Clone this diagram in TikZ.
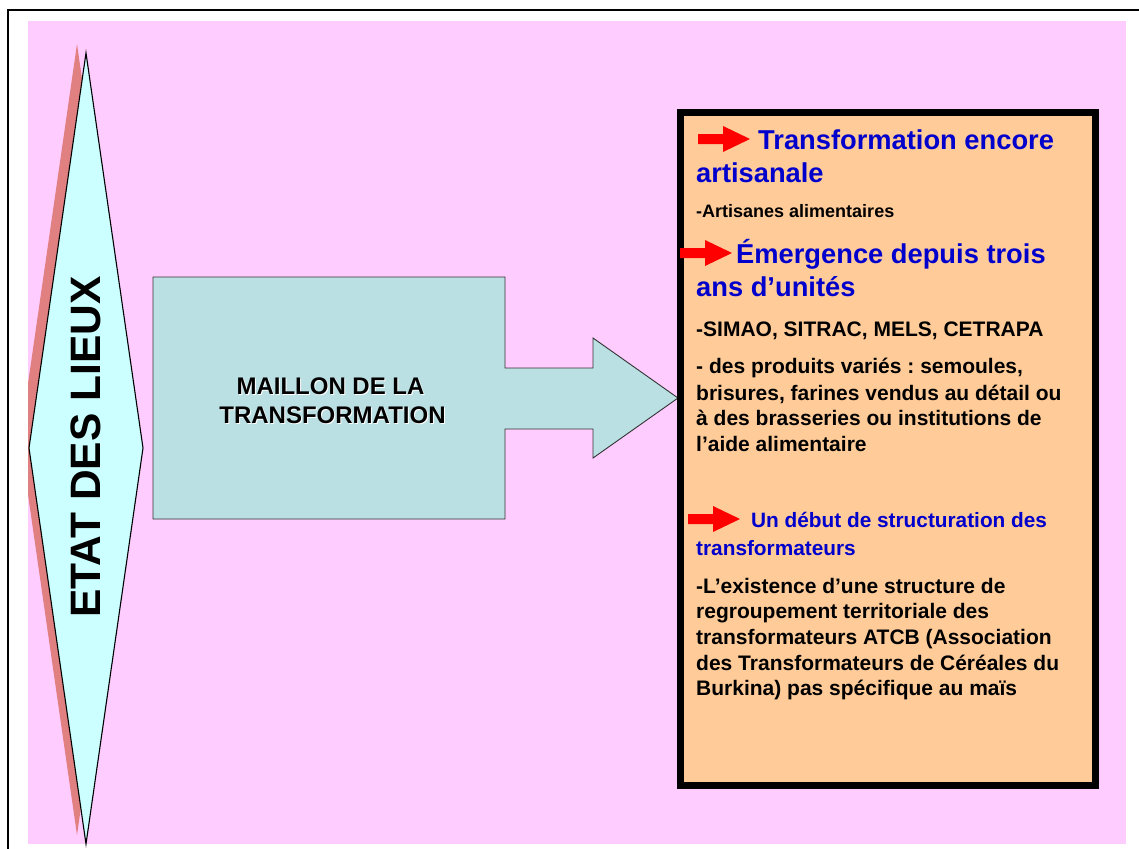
\documentclass[tikz,border=0pt]{standalone}
\usepackage{fontspec}
\setmainfont{Liberation Sans}
\frenchspacing
\definecolor{slidepink}{HTML}{FFCCFF}
\definecolor{diamondfill}{HTML}{CCFFFF}
\definecolor{diamondshade}{HTML}{E08080}
\definecolor{linkfill}{HTML}{BBE0E3}
\definecolor{panelfill}{HTML}{FFCC99}
\definecolor{headblue}{HTML}{0000CC}
\definecolor{pointerred}{HTML}{FF0000}
\begin{document}
\begin{tikzpicture}[x=1pt,y=-1pt,
  line/.style={anchor=base west,inner sep=0pt},
  headbig/.style={line,text=headblue,font=\fontsize{27.3}{33}\selectfont\bfseries},
  headsmall/.style={line,text=headblue,font=\fontsize{20.8}{25}\selectfont\bfseries},
  bodytext/.style={line,text=black,font=\fontsize{21}{25}\selectfont\bfseries},
  smalltext/.style={line,text=black,font=\fontsize{18}{21}\selectfont\bfseries},
  linklabel/.style={inner sep=0pt,anchor=base,font=\fontsize{24}{28}\selectfont\bfseries},
  pics/pointer/.style={code={
    \fill[pointerred] (0,-5) -- (25,-5) -- (25,-13) -- (52,0) -- (25,13) -- (25,5) -- (0,5) -- cycle;}}
]
\useasboundingbox (0,0) rectangle (1139,848);
\fill[white] (0,0) rectangle (1139,848);
% frame and slide area
\draw[line width=1.8pt] (8,850) -- (8,10) -- (1141,10);
\fill[slidepink] (28,21) rectangle (1126,844);

% left diamond with its offset shade
\begin{scope}
  \clip (28,21) rectangle (1126,844);
  \fill[diamondshade] (77,44) -- (134,439) -- (77,835) -- (20,439) -- cycle;
\end{scope}
\draw[fill=diamondfill,line width=1.1pt,line join=miter] (86,53) -- (143,448) -- (86,844) -- (29,448) -- cycle;
\node[rotate=90,inner sep=0pt,font=\fontsize{42.5}{50}\selectfont\bfseries] (etat) at (86,447) {ETAT DES LIEUX};

% link box merged with its block arrow
\draw[fill=linkfill,draw=black!80,line width=0.9pt,line join=miter]
  (153,277) -- (505,277) -- (505,368) -- (593,368) -- (593,338) -- (678,398)
  -- (593,458) -- (593,429) -- (505,429) -- (505,519) -- (153,519) -- cycle;
\node[linklabel,text=white] (m1s) at (331.5,395) {MAILLON DE LA};
\node[linklabel,text=white] (m2s) at (333.5,424) {TRANSFORMATION};
\node[linklabel] (m1) at (330.5,394) {MAILLON DE LA};
\node[linklabel] (m2) at (332.5,423) {TRANSFORMATION};

% right panel
\draw[fill=panelfill,line width=7pt,line join=miter] (680.5,112.5) rectangle (1095.5,785.5);

\pic at (698,139) {pointer};
\node[headbig] (h1a) at (758,149) {Transformation encore};
\node[headbig] (h1b) at (696,182) {artisanale};
\node[smalltext] (t1) at (696,217) {-Artisanes alimentaires};

\pic at (680,253) {pointer};
\node[headbig] (h2a) at (736,263) {Émergence depuis trois};
\node[headbig] (h2b) at (696,296) {ans d’unités};
\node[bodytext] (t2) at (696,336) {-SIMAO, SITRAC, MELS, CETRAPA};
\node[bodytext] (t3a) at (696,373) {- des produits variés : semoules,};
\node[bodytext] (t3b) at (696,400) {brisures, farines vendus au détail ou};
\node[bodytext] (t3c) at (696,425) {à des brasseries ou institutions de};
\node[bodytext] (t3d) at (696,451) {l’aide alimentaire};

\pic at (688,519) {pointer};
\node[headsmall] (h3a) at (751,527) {Un début de structuration des};
\node[headsmall] (h3b) at (696,555) {transformateurs};
\node[bodytext] (t4a) at (696,593) {-L’existence d’une structure de};
\node[bodytext] (t4b) at (696,618) {regroupement territoriale des};
\node[bodytext] (t4c) at (696,644) {transformateurs ATCB (Association};
\node[bodytext] (t4d) at (696,670) {des Transformateurs de Céréales du};
\node[bodytext] (t4e) at (696,695) {Burkina) pas spécifique au maïs};
\end{tikzpicture}
\end{document}
